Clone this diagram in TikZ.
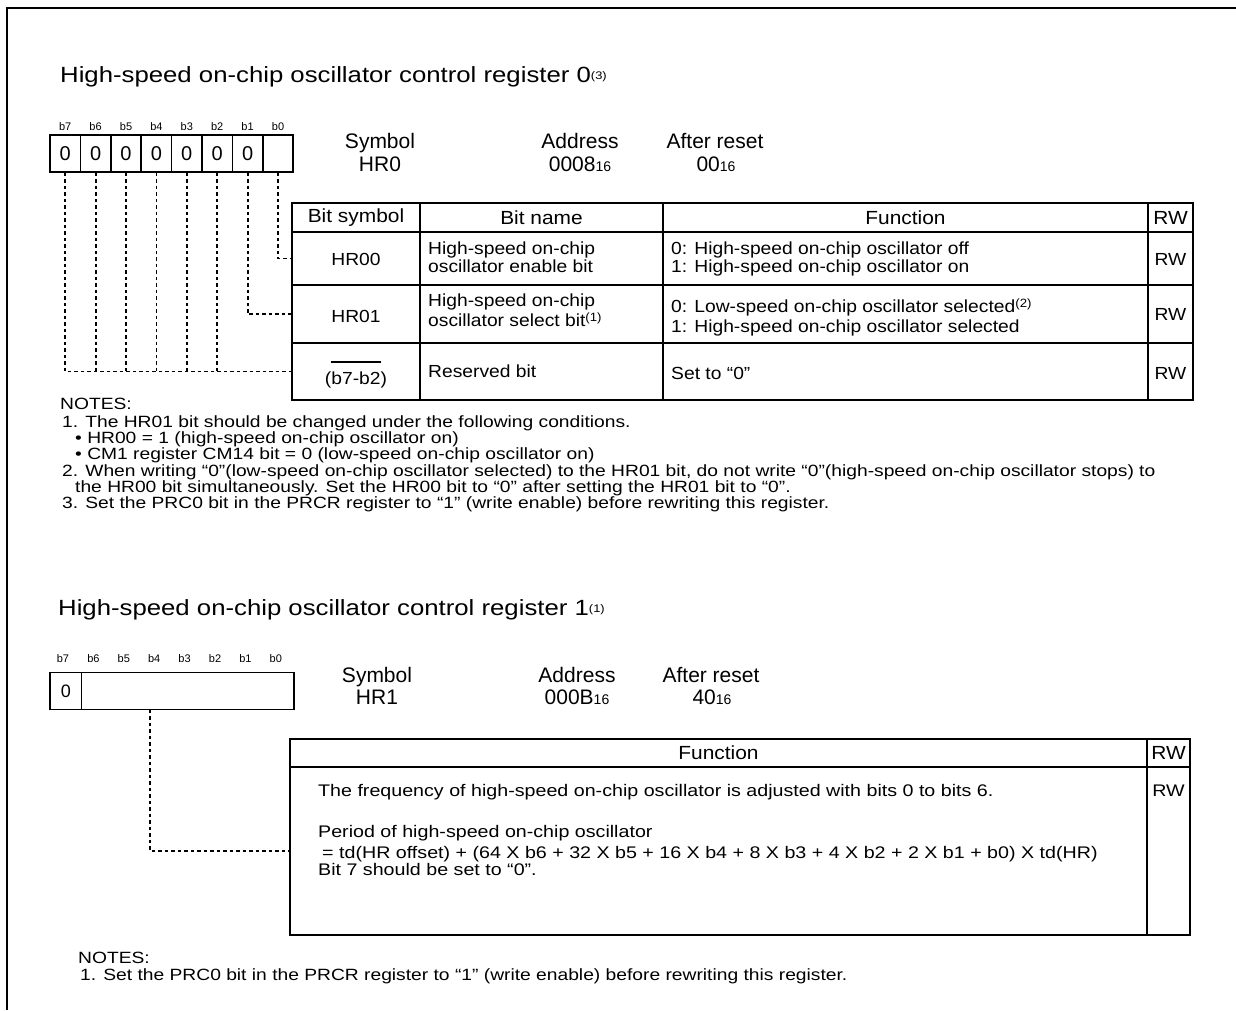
\documentclass[tikz,border=0pt]{standalone}
\usepackage{fontspec}
\setmainfont{Liberation Sans}
\newfontfamily\wf[FakeStretch=1.17]{Liberation Sans}
\newfontfamily\nf[FakeStretch=1.18]{Liberation Sans}
\newfontfamily\mf[FakeStretch=1.1]{Liberation Sans}
\newcommand\fs[1]{\fontsize{#1}{#1}\selectfont}
\newcommand\myovl[1]{\setbox0\hbox{#1}\rlap{\raisebox{21pt}{\rule{\wd0}{1.6pt}}}\box0}
\tikzset{
  lbl/.style={inner sep=0pt, anchor=base},
  lbw/.style={inner sep=0pt, anchor=base west},
  bitlbl/.style={inner sep=0pt, font=\fs{11}},
  bitcell/.style={draw, line width=1.5pt, minimum height=37pt, inner sep=0pt},
  tcell/.style={draw, line width=1.8pt, inner sep=0pt},
  dl/.style={line width=1.8pt, dash pattern=on 3.5pt off 3pt},
  frame/.style={line width=2.6pt},
  ttl/.style={lbw, font=\wf\fs{22}},
  hdr/.style={lbl, font=\fs{21}},
  thd/.style={font=\mf\fs{19}},
  body/.style={lbw, font=\mf\fs{17.5}},
  bodyc/.style={lbl, font=\mf\fs{17.5}},
  note/.style={lbw, font=\nf\fs{16.3}},
  body2/.style={lbw, font=\wf\fs{16.8}},
}
\begin{document}
\begin{tikzpicture}[x=1pt,y=-1pt]
\useasboundingbox (0,0) rectangle (1236,1010);
\draw[frame] (7,1010) -- (7,8) -- (1236,8);

% ---------------- Register 0 ----------------
\node[ttl] (title1) at (60,82) {High-speed on-chip oscillator control register 0\raisebox{3pt}{\fs{11}(3)}};

\foreach \k/\b in {0/b7,1/b6,2/b5,3/b4,4/b3,5/b2,6/b1,7/b0}{
  \node[bitlbl] (la\b) at (65.2+30.4*\k,127) {\b};
}
\foreach \k/\b/\v in {0/7/0,1/6/0,2/5/0,3/4/0,4/3/0,5/2/0,6/1/0,7/0/{}}{
  \node[bitcell, minimum width=30.4pt, font=\fs{20}] (c\b) at (65.2+30.4*\k,153.5) {\v};
}

\node[hdr] (sym0) at (380,148) {Symbol};
\node[hdr] (sym0v) at (380,171) {HR0};
\node[hdr] (adr0) at (580,148) {Address};
\node[hdr] (adr0v) at (580,171) {0008{\fs{14}16}};
\node[hdr] (rst0) at (715,148) {After reset};
\node[hdr] (rst0v) at (716,171) {00{\fs{14}16}};

% table 1 grid
\node[tcell, thd, minimum width=128pt, minimum height=29pt] (h1) at (356,217.5) {Bit symbol};
\node[tcell, thd, minimum width=243pt, minimum height=29pt] (h2) at (541.5,217.5) {Bit name};
\node[tcell, thd, minimum width=485pt, minimum height=29pt] (h3) at (905.5,217.5) {Function};
\node[tcell, thd, minimum width=45pt, minimum height=29pt] (h4) at (1170.5,217.5) {RW};

\node[tcell, minimum width=128pt, minimum height=53pt] (s1) at (356,258.5) {};
\node[tcell, minimum width=243pt, minimum height=53pt] (n1) at (541.5,258.5) {};
\node[tcell, minimum width=485pt, minimum height=53pt] (f1) at (905.5,258.5) {};
\node[tcell, minimum width=45pt, minimum height=53pt] (w1) at (1170.5,258.5) {};

\node[tcell, minimum width=128pt, minimum height=58pt] (s2) at (356,314) {};
\node[tcell, minimum width=243pt, minimum height=58pt] (n2) at (541.5,314) {};
\node[tcell, minimum width=485pt, minimum height=58pt] (f2) at (905.5,314) {};
\node[tcell, minimum width=45pt, minimum height=58pt] (w2) at (1170.5,314) {};

\node[tcell, minimum width=128pt, minimum height=57pt] (s3) at (356,371.5) {};
\node[tcell, minimum width=243pt, minimum height=57pt] (n3) at (541.5,371.5) {};
\node[tcell, minimum width=485pt, minimum height=57pt] (f3) at (905.5,371.5) {};
\node[tcell, minimum width=45pt, minimum height=57pt] (w3) at (1170.5,371.5) {};

% table 1 texts
\node[bodyc] (s1t) at (356,265) {HR00};
\node[body] (n1a) at (428,254) {High-speed on-chip};
\node[body] (n1b) at (428,272) {oscillator enable bit};
\node[body] (f1a) at (671,254) {0: High-speed on-chip oscillator off};
\node[body] (f1b) at (671,272) {1: High-speed on-chip oscillator on};
\node[bodyc] (w1t) at (1170.5,265) {RW};

\node[bodyc] (s2t) at (356,322) {HR01};
\node[body] (n2a) at (428,306) {High-speed on-chip};
\node[body] (n2b) at (428,326) {oscillator select bit\raisebox{5pt}{\fs{12}(1)}};
\node[body] (f2a) at (671,312) {0: Low-speed on-chip oscillator selected\raisebox{5pt}{\fs{12}(2)}};
\node[body] (f2b) at (671,332) {1: High-speed on-chip oscillator selected};
\node[bodyc] (w2t) at (1170.5,320) {RW};

\node[bodyc] (s3t) at (356,384) {(\myovl{b7-b2})};
\node[body] (n3a) at (428,377) {Reserved bit};
\node[body] (f3a) at (671,379) {Set to “0”};
\node[bodyc] (w3t) at (1170.5,379) {RW};

% connectors register 0
\draw[dl] (c0.south) |- (s1.west);
\draw[dl] (c1.south) |- (s2.west);
\draw[dl] (c7.south) |- (s3.west);
\foreach \b in {6,5,4,3,2}{
  \draw[dl] (c\b.south) -- (c\b.south |- s3.west);
}

% notes 1
\node[note] (no1) at (60,409) {NOTES:};
\node[note] (no1a) at (62,427) {1. The HR01 bit should be changed under the following conditions.};
\node[note] (no1b) at (75,443) {• HR00 = 1 (high-speed on-chip oscillator on)};
\node[note] (no1c) at (75,459) {• CM1 register CM14 bit = 0 (low-speed on-chip oscillator on)};
\node[note] (no1d) at (62,476) {2. When writing “0”(low-speed on-chip oscillator selected) to the HR01 bit, do not write “0”(high-speed on-chip oscillator stops) to};
\node[note] (no1e) at (75,492) {the HR00 bit simultaneously. Set the HR00 bit to “0” after setting the HR01 bit to “0”.};
\node[note] (no1f) at (62,508) {3. Set the PRC0 bit in the PRCR register to “1” (write enable) before rewriting this register.};

% ---------------- Register 1 ----------------
\node[ttl] (title2) at (58,615) {High-speed on-chip oscillator control register 1\raisebox{3pt}{\fs{11}(1)}};

\foreach \k/\b in {0/b7,1/b6,2/b5,3/b4,4/b3,5/b2,6/b1,7/b0}{
  \node[bitlbl] (lb\b) at (63+30.4*\k,659) {\b};
}
\node[bitcell, minimum width=31.7pt, font=\fs{18}] (d7) at (65.85,691) {0};
\node[bitcell, minimum width=212.3pt] (d6) at (187.85,691) {};
\coordinate (tap) at (150,709.5);

\node[hdr] (sym1) at (377,682) {Symbol};
\node[hdr] (sym1v) at (377,704) {HR1};
\node[hdr] (adr1) at (577,682) {Address};
\node[hdr] (adr1v) at (577,704) {000B{\fs{14}16}};
\node[hdr] (rst1) at (711,682) {After reset};
\node[hdr] (rst1v) at (712,704) {40{\fs{14}16}};

\node[tcell, thd, minimum width=857pt, minimum height=28pt] (g1) at (718.5,753) {Function};
\node[tcell, thd, minimum width=43pt, minimum height=28pt] (g2) at (1168.5,753) {RW};
\node[tcell, minimum width=857pt, minimum height=168pt] (g3) at (718.5,851) {};
\node[tcell, minimum width=43pt, minimum height=168pt] (g4) at (1168.5,851) {};

\node[body2] (t2a) at (318,796) {The frequency of high-speed on-chip oscillator is adjusted with bits 0 to bits 6.};
\node[lbl, font=\wf\fs{16.8}] (t2rw) at (1168.5,796) {RW};
\node[body2] (t2b) at (318,837) {Period of high-speed on-chip oscillator};
\node[body2] (t2c) at (322,858) {= td(HR offset) + (64 X b6 + 32 X b5 + 16 X b4 + 8 X b3 + 4 X b2 + 2 X b1 + b0) X td(HR)};
\node[body2] (t2d) at (318,875) {Bit 7 should be set to “0”.};

\draw[dl] (tap) |- (g3.west);

\node[note] (no2) at (78,963) {NOTES:};
\node[note] (no2a) at (80,980) {1. Set the PRC0 bit in the PRCR register to “1” (write enable) before rewriting this register.};
\end{tikzpicture}
\end{document}
